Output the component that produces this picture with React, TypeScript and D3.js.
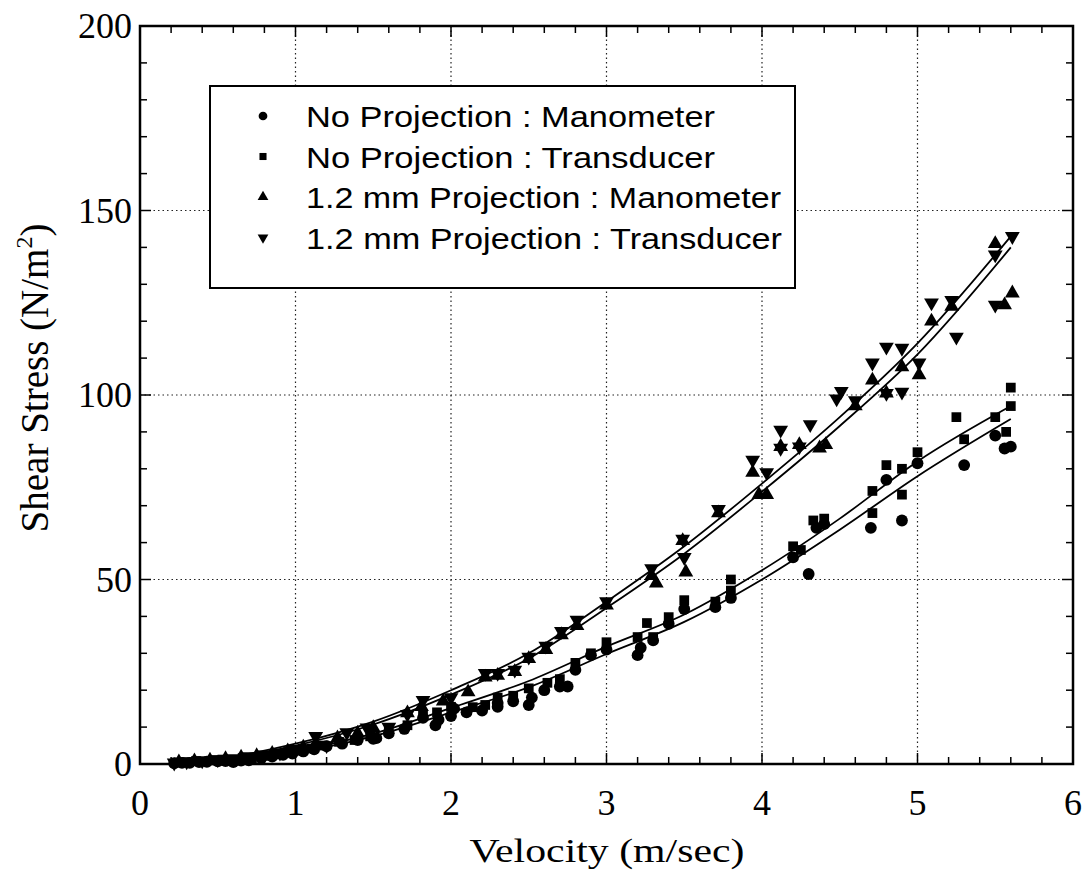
import React from "react";
import * as d3 from "d3";

// ---------- DATA ----------
const xTicks = [0, 1, 2, 3, 4, 5, 6];
const yTicks = [0, 50, 100, 150, 200];

// No Projection : Manometer (circles)
const npManV = [0.22, 0.27, 0.32, 0.38, 0.43, 0.5, 0.55, 0.6, 0.65, 0.7, 0.78, 0.85, 0.92, 0.98, 1.05, 1.12, 1.2, 1.3, 1.4, 1.5, 1.52, 1.6, 1.7, 1.82, 1.9, 1.92, 2.0, 2.02, 2.1, 2.2, 2.3, 2.3, 2.4, 2.5, 2.52, 2.6, 2.7, 2.75, 2.8, 2.9, 3.0, 3.2, 3.22, 3.3, 3.4, 3.5, 3.7, 3.8, 4.2, 4.3, 4.35, 4.4, 4.7, 4.8, 4.9, 5.0, 5.3, 5.5, 5.56, 5.6];
const npManS = [0.2, 0.3, 0.3, 0.5, 0.6, 0.7, 0.8, 0.5, 0.9, 1.0, 1.6, 2.0, 2.5, 2.8, 3.4, 4.0, 4.8, 5.5, 6.5, 6.8, 7.0, 8.3, 9.5, 12.5, 10.5, 12.0, 13.0, 15.0, 14.0, 14.5, 15.5, 16.5, 17.0, 16.0, 18.0, 20.0, 21.0, 21.0, 25.5, 29.5, 31.0, 29.5, 31.5, 33.5, 38.0, 42.0, 42.5, 45.0, 56.0, 51.5, 64.0, 65.0, 64.0, 77.0, 66.0, 81.5, 81.0, 89.0, 85.5, 86.0];

// No Projection : Transducer (squares)
const npTrV = [0.25, 0.3, 0.36, 0.42, 0.48, 0.53, 0.6, 0.66, 0.72, 0.8, 0.88, 0.95, 1.02, 1.1, 1.18, 1.28, 1.38, 1.48, 1.6, 1.72, 1.82, 1.91, 2.0, 2.14, 2.22, 2.3, 2.4, 2.5, 2.62, 2.7, 2.8, 2.9, 3.0, 3.2, 3.26, 3.3, 3.4, 3.5, 3.7, 3.8, 3.8, 4.2, 4.25, 4.33, 4.4, 4.71, 4.71, 4.8, 4.9, 4.9, 5.0, 5.25, 5.3, 5.5, 5.57, 5.6, 5.6];
const npTrS = [0.4, 0.5, 0.8, 0.7, 1.0, 1.2, 1.1, 1.6, 1.5, 2.2, 2.6, 3.2, 3.6, 4.2, 5.0, 6.0, 6.5, 7.5, 8.8, 10.5, 13.5, 14.0, 15.5, 15.4, 16.0, 18.0, 18.5, 20.5, 22.0, 23.0, 27.4, 30.0, 33.0, 34.4, 38.2, 34.4, 39.8, 44.4, 44.0, 50.0, 47.0, 59.0, 58.0, 66.0, 66.5, 68.0, 74.0, 81.0, 80.0, 73.0, 84.5, 94.0, 88.0, 94.0, 90.0, 97.0, 102.0];

// 1.2 mm Projection : Manometer (triangles)
const pjManV = [0.25, 0.35, 0.45, 0.55, 0.65, 0.75, 0.85, 0.95, 1.05, 1.13, 1.27, 1.4, 1.5, 1.72, 1.81, 1.95, 2.11, 2.22, 2.3, 2.41, 2.5, 2.61, 2.71, 2.81, 3.0, 3.29, 3.32, 3.49, 3.51, 3.72, 3.94, 3.98, 4.03, 4.12, 4.24, 4.37, 4.41, 4.6, 4.71, 4.8, 4.9, 5.01, 5.09, 5.22, 5.5, 5.56, 5.61];
const pjManS = [0.5, 0.8, 1.0, 1.4, 1.8, 2.2, 2.8, 3.5, 4.5, 5.5, 7.0, 8.3, 9.8, 13.8, 15.5, 17.0, 19.5, 23.5, 24.0, 25.0, 28.5, 31.0, 35.0, 37.5, 43.0, 51.0, 49.0, 60.5, 52.0, 68.0, 79.0, 73.0, 73.0, 86.0, 86.5, 85.6, 86.5, 97.0, 104.0, 100.5, 107.6, 105.4, 120.0, 124.0, 141.0, 124.4, 127.6];

// 1.2 mm Projection : Transducer (inverted triangles)
const pjTrV = [0.22, 0.3, 0.4, 0.5, 0.6, 0.7, 0.8, 0.9, 1.0, 1.13, 1.2, 1.33, 1.46, 1.6, 1.72, 1.82, 2.0, 2.22, 2.3, 2.41, 2.5, 2.61, 2.71, 2.81, 3.0, 3.29, 3.49, 3.5, 3.72, 3.94, 4.03, 4.12, 4.12, 4.24, 4.31, 4.48, 4.51, 4.6, 4.71, 4.8, 4.8, 4.9, 4.9, 5.01, 5.09, 5.22, 5.25, 5.5, 5.5, 5.61];
const pjTrS = [0.3, 0.6, 0.9, 1.2, 1.5, 2.0, 2.5, 3.0, 4.0, 7.5, 5.0, 8.5, 9.8, 10.0, 13.5, 17.3, 18.0, 24.6, 24.6, 25.5, 29.0, 32.0, 36.0, 39.0, 44.0, 53.0, 61.0, 56.0, 69.0, 82.4, 79.0, 90.5, 85.6, 86.0, 92.0, 99.0, 101.0, 98.5, 108.7, 113.0, 100.5, 112.7, 100.8, 108.7, 125.0, 125.7, 115.7, 138.0, 124.4, 143.0];

// Fitted curves (pairs of near-parallel lines)
const fitV = [0.2, 0.5, 1, 1.5, 2, 2.5, 3, 3.5, 4, 4.5, 5, 5.6];
const fitProjA = [0.3, 1.4, 5.5, 11.5, 20, 30, 44, 59, 76, 94, 114, 143];
const fitProjB = [0.2, 1.2, 5.0, 10.7, 18.8, 28.6, 42.3, 57, 73.8, 91.6, 111, 140];
const fitNoA = [0.2, 1.0, 3.6, 8.2, 15.2, 22.5, 31.8, 40.5, 52.5, 66.5, 82, 97];
const fitNoB = [0.1, 0.8, 3.2, 7.5, 14.0, 20.8, 29.8, 38.5, 50, 63.5, 78, 93.5];

const legendLabels = [
  "No Projection : Manometer",
  "No Projection : Transducer",
  "1.2 mm Projection : Manometer",
  "1.2 mm Projection : Transducer",
];

// ---------- LAYOUT ----------
const W = 1088, H = 892;
const L = 140, R = 1073, T = 26, B = 764;

export default function App() {
  const x = d3.scaleLinear().domain([0, 6]).range([L, R]);
  const y = d3.scaleLinear().domain([0, 200]).range([B, T]);

  const xMinor = d3.range(0, 6.0001, 0.2);
  const yMinor = d3.range(0, 200.001, 10);

  const line = d3
    .line<[number, number]>()
    .x((d) => x(d[0]))
    .y((d) => y(d[1]))
    .curve(d3.curveMonotoneX);

  const fits = [fitProjA, fitProjB, fitNoA, fitNoB].map((arr) =>
    line(fitV.map((v, i) => [v, arr[i]] as [number, number]))
  );

  const circlePath = d3.symbol(d3.symbolCircle, 110)()!;
  const squarePath = d3.symbol(d3.symbolSquare, 95)()!;
  const triPath = d3.symbol(d3.symbolTriangle, 95)()!;

  const series = [
    { v: npManV, s: npManS, path: circlePath, rot: 0 },
    { v: npTrV, s: npTrS, path: squarePath, rot: 0 },
    { v: pjManV, s: pjManS, path: triPath, rot: 0 },
    { v: pjTrV, s: pjTrS, path: triPath, rot: 180 },
  ];

  const legCircle = d3.symbol(d3.symbolCircle, 60)()!;
  const legSquare = d3.symbol(d3.symbolSquare, 50)()!;
  const legTri = d3.symbol(d3.symbolTriangle, 50)()!;
  const legendMarks = [
    { path: legCircle, rot: 0 },
    { path: legSquare, rot: 0 },
    { path: legTri, rot: 0 },
    { path: legTri, rot: 180 },
  ];
  const legendWidths = [409, 409, 475, 476];

  const serif = "'Liberation Serif', 'Times New Roman', serif";
  const sans = "'Liberation Sans', Arial, sans-serif";

  return (
    <svg width={W} height={H} style={{ position: "absolute", left: 0, top: 0, background: "#fff" }}>
      <rect x={0} y={0} width={W} height={H} fill="#fff" />
      {/* grid */}
      {xTicks.slice(1, -1).map((t) => (
        <line key={"gx" + t} x1={x(t)} x2={x(t)} y1={T} y2={B} stroke="#222" strokeWidth={1.2} strokeDasharray="1.5,3" />
      ))}
      {yTicks.slice(1, -1).map((t) => (
        <line key={"gy" + t} x1={L} x2={R} y1={y(t)} y2={y(t)} stroke="#222" strokeWidth={1.2} strokeDasharray="1.5,3" />
      ))}
      {/* minor ticks */}
      {xMinor.map((t, i) => {
        const len = i % 5 === 0 ? 11 : 7;
        return (
          <g key={"xm" + i}>
            <line x1={x(t)} x2={x(t)} y1={B} y2={B - len} stroke="#000" strokeWidth={1.5} />
            <line x1={x(t)} x2={x(t)} y1={T} y2={T + len} stroke="#000" strokeWidth={1.5} />
          </g>
        );
      })}
      {yMinor.map((t, i) => {
        const len = i % 5 === 0 ? 11 : 7;
        return (
          <g key={"ym" + i}>
            <line x1={L} x2={L + len} y1={y(t)} y2={y(t)} stroke="#000" strokeWidth={1.5} />
            <line x1={R} x2={R - len} y1={y(t)} y2={y(t)} stroke="#000" strokeWidth={1.5} />
          </g>
        );
      })}
      {/* fits */}
      {fits.map((d, i) => (
        <path key={"f" + i} d={d || ""} fill="none" stroke="#000" strokeWidth={1.8} />
      ))}
      {/* points */}
      {series.map((se, si) =>
        se.v.map((v, i) => (
          <path
            key={"p" + si + "-" + i}
            d={se.path}
            transform={`translate(${x(v)},${y(se.s[i])}) rotate(${se.rot})`}
            fill="#000"
          />
        ))
      )}
      {/* frame */}
      <rect x={L} y={T} width={R - L} height={B - T} fill="none" stroke="#000" strokeWidth={2.5} />
      {/* tick labels */}
      {xTicks.map((t) => (
        <text key={"xl" + t} x={x(t)} y={815} textAnchor="middle" fontFamily={serif} fontSize={36} fill="#000">
          {t}
        </text>
      ))}
      {yTicks.map((t) => (
        <text key={"yl" + t} x={132} y={y(t) + 12} textAnchor="end" fontFamily={serif} fontSize={36} fill="#000">
          {t}
        </text>
      ))}
      {/* axis titles */}
      <text x={607} y={862} textAnchor="middle" fontFamily={serif} fontSize={34} textLength={275} lengthAdjust="spacingAndGlyphs" fill="#000">
        Velocity (m/sec)
      </text>
      <text
        transform={`translate(48,${378}) rotate(-90)`}
        textAnchor="middle"
        fontFamily={serif}
        fontSize={39}
        fill="#000"
      >
        Shear Stress (N/m<tspan dy={-16} fontSize={24}>2</tspan>
        <tspan dy={16}>)</tspan>
      </text>
      {/* legend */}
      <rect x={210} y={86} width={585} height={202} fill="#fff" stroke="#000" strokeWidth={2} />
      {legendLabels.map((lab, i) => {
        const cy = 116 + i * 40.5;
        return (
          <g key={"lg" + i}>
            <path d={legendMarks[i].path} transform={`translate(263,${cy}) rotate(${legendMarks[i].rot})`} fill="#000" />
            <text
              x={306}
              y={cy + 11}
              fontFamily={sans}
              fontSize={30}
              textLength={legendWidths[i]}
              lengthAdjust="spacingAndGlyphs"
              fill="#000"
            >
              {lab}
            </text>
          </g>
        );
      })}
    </svg>
  );
}
